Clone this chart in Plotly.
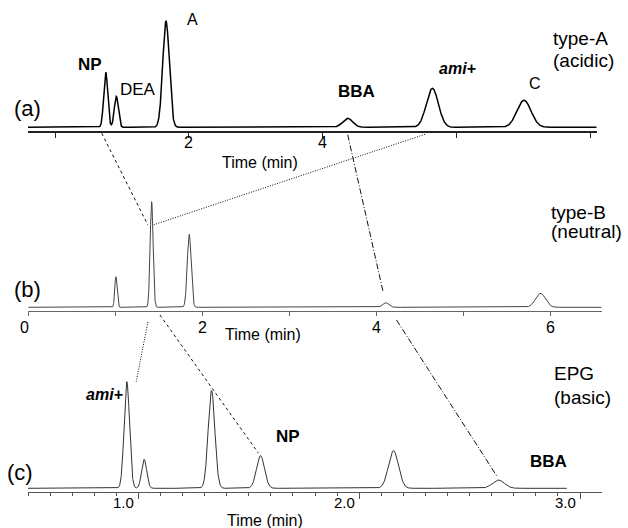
import numpy as np
import plotly.graph_objects as go

W, H = 628, 528
FONT = "Liberation Sans, Arial, Helvetica, sans-serif"

# ---------------- data (retention time in min, peak height in arbitrary units, peak sigma in min)
a_names = ["NP", "DEA", "A", "BBA", "ami+", "C"]
a_time = [0.758, 0.916, 1.659, 4.375, 5.640, 7.010]
a_height = [55, 31, 106, 9, 39, 27]
a_sigma = [0.030, 0.030, 0.049, 0.075, 0.090, 0.105]

b_time = [1.006, 1.416, 1.847, 4.104, 5.880]
b_height = [30.6, 105.6, 73, 4.6, 14]
b_sigma = [0.013, 0.017, 0.022, 0.034, 0.057]

c_time = [0.9475, 1.026, 1.331, 1.553, 2.155, 2.630]
c_height = [106.7, 29, 98, 32.7, 37.7, 8.3]
c_sigma = [0.0122, 0.0113, 0.015, 0.018, 0.0226, 0.027]

a_run = [-0.404, 8.097]
b_run = [0.0, 6.583]
c_run = [0.5, 2.94]

a_tickvals = [0, 2, 4, 6, 8]
a_ticktext = ["", "2", "4", "", ""]
b_tickvals = [0, 1, 2, 3, 4, 5, 6]
b_ticktext = ["0", "", "2", "", "4", "", "6"]
c_tickvals = [1.0, 2.0, 3.0]
c_ticktext = ["1.0", "2.0", "3.0"]

# connectors: (panel, time, level) -> (panel, time, level)
conn_dash = [(("a", 0.698, -6.0), ("b", 1.373, 82.3)),
             (("b", 1.511, -7.7), ("c", 1.543, 35.3))]
conn_dot = [(("a", 5.531, -7.0), ("b", 1.431, 82.3)),
            (("b", 1.373, -14.7), ("c", 0.990, 106.6))]
conn_dashdot = [(("a", 4.375, -7.4), ("b", 4.073, 15.6)),
                (("b", 4.227, -12.7), ("c", 2.625, 11.6))]

# ---------------- layout geometry (pixels)
panels = {
    "a": dict(x0=28, x1=596.7, ybot=130.7, ytop=5, xr=[-0.404, 8.097], yr=[-3.4, 122.3]),
    "b": dict(x0=28.3, x1=601.7, ybot=311, ytop=190, xr=[0, 6.583], yr=[-3.7, 117.3]),
    "c": dict(x0=28, x1=601.7, ybot=492.3, ytop=370, xr=[0.5, 3.098], yr=[-4, 118.3]),
}


def to_px(p, t, y):
    g = panels[p]
    px = g["x0"] + (t - g["xr"][0]) / (g["xr"][1] - g["xr"][0]) * (g["x1"] - g["x0"])
    py = g["ybot"] - (y - g["yr"][0]) / (g["yr"][1] - g["yr"][0]) * (g["ybot"] - g["ytop"])
    return px, py


def trace_y(t, times, heights, sigmas):
    y = np.zeros_like(t)
    for tt, hh, ss in zip(times, heights, sigmas):
        y += hh * np.exp(-0.5 * ((t - tt) / ss) ** 2)
    return y


fig = go.Figure()
specs = [("a", a_run, a_time, a_height, a_sigma, "#000000", 1.5, ""),
         ("b", b_run, b_time, b_height, b_sigma, "#444444", 1.0, "2"),
         ("c", c_run, c_time, c_height, c_sigma, "#333333", 1.0, "3")]
for p, run, tm, hg, sg, col, lw, suf in specs:
    t = np.linspace(run[0], run[1], 4000)
    fig.add_trace(go.Scatter(x=t, y=trace_y(t, tm, hg, sg), mode="lines",
                             line=dict(color=col, width=lw),
                             xaxis="x" + suf, yaxis="y" + suf,
                             showlegend=False, hoverinfo="skip"))

layout = dict(width=W, height=H, margin=dict(l=0, r=0, t=0, b=0),
              paper_bgcolor="white", plot_bgcolor="white",
              font=dict(family=FONT, color="black"), showlegend=False)

axis_cfg = {
    "a": dict(tickvals=a_tickvals, ticklen=5, linecolor="#222222", linewidth=2),
    "b": dict(tickvals=b_tickvals, ticklen=4, linecolor="#666666", linewidth=1),
    "c": dict(tickvals=c_tickvals, ticklen=6, linecolor="#555555", linewidth=1,
              minor=dict(dtick=0.1, tick0=0.5, ticklen=3, ticks="outside", tickcolor="#555555")),
}
for p, suf in [("a", ""), ("b", "2"), ("c", "3")]:
    g = panels[p]
    ax = dict(domain=[g["x0"] / W, g["x1"] / W], range=g["xr"], showline=True,
              showgrid=False, zeroline=False, ticks="outside", tickcolor=axis_cfg[p]["linecolor"],
              showticklabels=False, anchor="y" + suf, fixedrange=True)
    ax.update(axis_cfg[p])
    layout["xaxis" + suf] = ax
    layout["yaxis" + suf] = dict(domain=[1 - g["ybot"] / H, 1 - g["ytop"] / H], range=g["yr"],
                                 visible=False, anchor="x" + suf, fixedrange=True)
fig.update_layout(**layout)

# tick labels (placed on the axes' own data scale)
tick_label_cfg = [("x", a_tickvals, a_ticktext, 143, 16, {}),
                  ("x2", b_tickvals, b_ticktext, 327, 16, {0: -4}),
                  ("x3", c_tickvals, c_ticktext, 502, 15, {})]
for xref, vals, texts, py, size, special in tick_label_cfg:
    for i, (v, tx) in enumerate(zip(vals, texts)):
        if not tx:
            continue
        shift = special.get(i, 0) if xref != "x3" else -15
        fig.add_annotation(text=tx, x=v, xref=xref, y=1 - py / H, yref="paper",
                           showarrow=False, xanchor="center", yanchor="middle", xshift=shift,
                           font=dict(size=size, family=FONT, color="black"))

# connectors
shapes = []
for conns, dash in [(conn_dash, "3px,3px"), (conn_dot, "1px,1.5px"), (conn_dashdot, "6px,2px,1px,2px")]:
    for s, e in conns:
        x0, y0 = to_px(*s)
        x1, y1 = to_px(*e)
        shapes.append(dict(type="line", xref="paper", yref="paper",
                           x0=x0 / W, y0=1 - y0 / H, x1=x1 / W, y1=1 - y1 / H,
                           line=dict(color="#111111", width=1, dash=dash)))
fig.update_layout(shapes=shapes)


def ann(text, px, py, size, xanchor="center"):
    fig.add_annotation(text=text, x=px / W, y=1 - py / H, xref="paper", yref="paper",
                       showarrow=False, xanchor=xanchor, yanchor="middle",
                       font=dict(size=size, family=FONT, color="black"))


# peak labels
ann("<b>NP</b>", 90, 65, 17)
ann("DEA", 138, 90, 17)
ann("A", 192, 19, 16)
ann("<b>BBA</b>", 356, 91, 17)
ann("<b><i>ami+</i></b>", 458, 69, 16)
ann("C", 535, 84, 16)
ann("<b><i>ami+</i></b>", 104, 394, 16)
ann("<b>NP</b>", 288, 436, 17)
ann("<b>BBA</b>", 548, 461, 17)
# panel tags
ann("(a)", 27, 108, 22)
ann("(b)", 27, 289, 22)
ann("(c)", 20, 472, 22)
# column type labels
ann("type-A", 551, 39, 19, "left")
ann("(acidic)", 551, 61, 19, "left")
ann("type-B", 549, 212, 19, "left")
ann("(neutral)", 549, 231, 19, "left")
ann("EPG", 552, 373, 19, "left")
ann("(basic)", 552, 397, 19, "left")
# axis titles
ann("Time (min)", 260, 162, 16)
ann("Time (min)", 263, 334, 16)
ann("Time (min)", 265, 520, 16)

fig.write_html("out.html")
